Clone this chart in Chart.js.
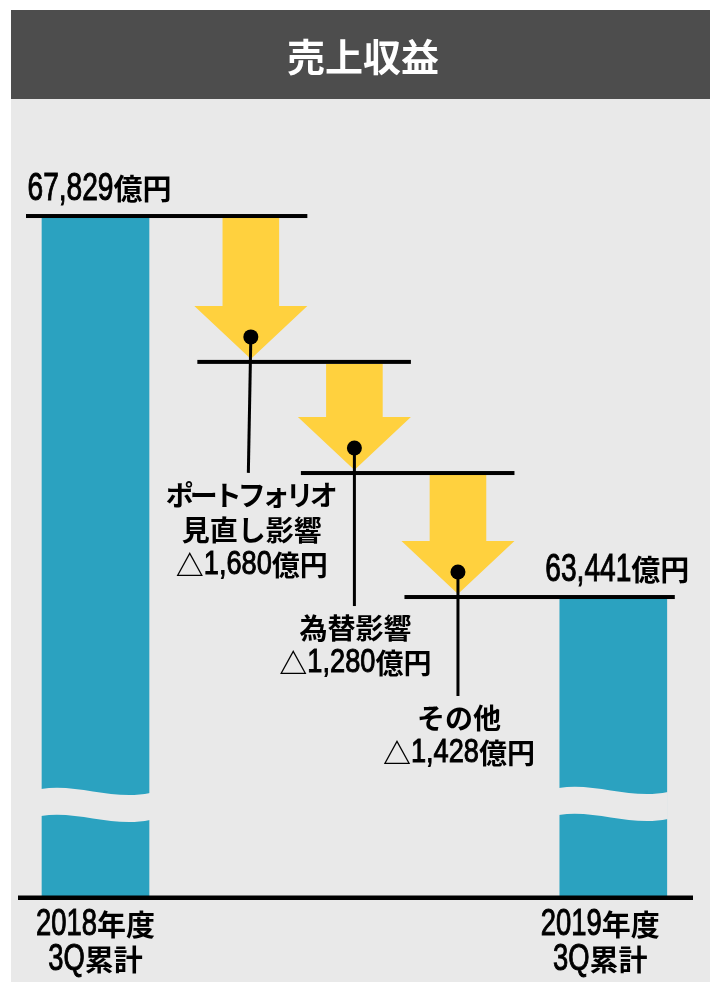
<!DOCTYPE html>
<html><head><meta charset="utf-8">
<script src="https://cdn.jsdelivr.net/npm/chart.js@4.4.1/dist/chart.umd.min.js"></script>
<style>
html,body{margin:0;padding:0;background:#fff;}
canvas{position:absolute;left:0;top:0;}
</style></head>
<body>
<canvas id="c" width="710" height="983"></canvas>
<script>
// ---- data ----
const chartTitle = '売上収益';
const totalLabels = ['2018年度\n3Q累計', '2019年度\n3Q累計'];
const totalValues = [67829, 63441];
const changeLabels = ['ポートフォリオ\n見直し影響', '為替影響', 'その他'];
const changeValues = [-1680, -1280, -1428];
const unitLabel = '億円';
const axisMin = 60000;
const axisMax = 69000;

// ---- layout / style ----
const totalPos = [0, 5];
const changePos = [1.5, 2.5, 3.5];
const TEAL = '#2ba2c0', YELLOW = '#ffd13e', BG = '#e9e9e9', BANNER = '#4d4d4d';
const calloutDrop = [136, 158, 124];
const calloutSlant = [-2.5, 0, 0];
const bottomOffset = [0, -13];
const waveShift = [0, -1];

const levels = [totalValues[0]];
changeValues.forEach(v => levels.push(levels[levels.length - 1] + v));

function fmt(n) { return Math.abs(n).toLocaleString('en-US'); }

function segs(text) {
  const out = [];
  for (const m of text.matchAll(/[0-9A-Za-z,.]+|[^0-9A-Za-z,.]/g)) out.push(m[0]);
  return out;
}
function drawMixed(ctx, text, cx, cy, st) {
  const latF = st.lat + 'px "Liberation Sans", Arial, sans-serif';
  const cjkF = (st.w || 'bold') + ' ' + st.cjk + 'px "Noto Sans CJK JP", sans-serif';
  const parts = segs(text).map(s => {
    const lat = /^[0-9A-Za-z,.]/.test(s);
    const kana = !lat && /[\u30A0-\u30FF]/.test(s);
    ctx.font = lat ? latF : cjkF;
    let w = ctx.measureText(s).width;
    if (lat) w *= st.sx; else if (kana) w += (st.kana || 0);
    return { s, lat, kana, w };
  });
  const total = parts.reduce((a, p) => a + p.w, 0);
  let x = cx - total / 2;
  ctx.textBaseline = 'middle';
  ctx.textAlign = 'left';
  parts.forEach(p => {
    if (p.lat) {
      ctx.font = latF;
      ctx.save(); ctx.translate(x, cy + (st.latDy || 0)); ctx.scale(st.sx, 1);
      ctx.fillText(p.s, 0, 0);
      ctx.lineWidth = 1.0; ctx.strokeStyle = ctx.fillStyle; ctx.strokeText(p.s, 0, 0);
      ctx.restore();
    } else {
      ctx.font = cjkF;
      ctx.fillText(p.s, x + (p.kana ? (st.kana || 0) / 2 : 0), cy);
    }
    x += p.w;
  });
}

const deco = {
  id: 'deco',
  beforeDraw(chart) {
    const ctx = chart.ctx;
    ctx.save();
    ctx.fillStyle = '#fff'; ctx.fillRect(0, 0, 710, 983);
    ctx.fillStyle = BG; ctx.fillRect(11, 10, 699, 972);
    ctx.fillStyle = BANNER; ctx.fillRect(11, 10, 699, 89);
    ctx.fillStyle = '#fff';
    ctx.font = 'bold 38px "Noto Sans CJK JP", sans-serif';
    ctx.textAlign = 'center'; ctx.textBaseline = 'middle';
    ctx.fillText(chartTitle, 363, 57);
    ctx.restore();
  },
  afterDatasetsDraw(chart) {
    const ctx = chart.ctx;
    const yS = chart.scales.y;
    const tot = chart.getDatasetMeta(0).data;
    const chg = chart.getDatasetMeta(1).data;
    const base = yS.getPixelForValue(axisMin);
    ctx.save();
    // wave breaks
    tot.forEach((el, i) => {
      const L = el.x - el.width / 2 - 1, R = el.x + el.width / 2 + 1, w = R - L;
      const y0 = base - 106.8 + waveShift[i];
      const g = 27;
      ctx.fillStyle = BG;
      ctx.beginPath();
      ctx.moveTo(L, y0);
      ctx.bezierCurveTo(L + 0.33 * w, y0 - 6, L + 0.66 * w, y0 + 12, R, y0 + 4);
      ctx.lineTo(R, y0 + 4 + g);
      ctx.bezierCurveTo(L + 0.66 * w, y0 + 12 + g, L + 0.33 * w, y0 - 6 + g, L, y0 + g);
      ctx.closePath();
      ctx.fill();
    });
    // arrows
    const tips = [];
    chg.forEach((el, i) => {
      const top = Math.min(el.y, el.base), bot = Math.max(el.y, el.base);
      const cx = el.x, hw = el.width / 2, sw = 28.3;
      const tip = bot - 3, hs = tip - 53, st = top + 2;
      tips.push(tip);
      ctx.fillStyle = YELLOW;
      ctx.beginPath();
      ctx.moveTo(cx - sw, st); ctx.lineTo(cx + sw, st); ctx.lineTo(cx + sw, hs);
      ctx.lineTo(cx + hw, hs); ctx.lineTo(cx, tip); ctx.lineTo(cx - hw, hs);
      ctx.lineTo(cx - sw, hs); ctx.closePath(); ctx.fill();
    });
    // step lines
    const items = [tot[0], chg[0], chg[1], chg[2], tot[1]];
    ctx.fillStyle = '#000';
    levels.forEach((lv, k) => {
      const y = yS.getPixelForValue(lv);
      const a = items[k], b = items[k + 1];
      const x1 = a.x - a.width / 2 + (k === 0 ? -16 : 3);
      const x2 = b.x + b.width / 2 + (k + 1 === 4 ? 8 : 0);
      ctx.fillRect(x1, y - 2, x2 - x1, 4);
    });
    // axis baseline
    ctx.fillRect(18, base - 0.3, 675, 4.5);
    // callouts
    chg.forEach((el, i) => {
      const cx = el.x, tip = tips[i];
      const dy = tip - 22;
      const ly = tip + calloutDrop[i];
      ctx.strokeStyle = '#000'; ctx.lineWidth = 3;
      ctx.beginPath(); ctx.moveTo(cx, dy); ctx.lineTo(cx + calloutSlant[i], ly - 22); ctx.stroke();
      ctx.beginPath(); ctx.arc(cx, dy, 7.5, 0, Math.PI * 2); ctx.fillStyle = '#000'; ctx.fill();
      const lines = changeLabels[i].split('\n').concat(['△' + fmt(changeValues[i]) + unitLabel]);
      lines.forEach((t, j) => drawMixed(ctx, t, cx + 1, ly + j * 35, { cjk: 28, lat: 34, sx: 0.8, kana: -4 }));
    });
    // total value labels
    tot.forEach((el, i) => {
      const y = yS.getPixelForValue(totalValues[i]);
      drawMixed(ctx, fmt(totalValues[i]) + unitLabel, el.x + 4, y - 27, { cjk: 29, lat: 38, sx: 0.74 });
      totalLabels[i].split('\n').forEach((t, j) =>
        drawMixed(ctx, t, el.x + bottomOffset[i], base + 29 + j * 35, { cjk: 29, lat: 37, sx: 0.74 }));
    });
    ctx.restore();
  }
};

new Chart(document.getElementById('c'), {
  type: 'bar',
  data: {
    datasets: [
      { label: '累計', data: totalValues.map((v, i) => ({ x: totalPos[i], y: [axisMin, v] })),
        backgroundColor: TEAL, barThickness: 107, grouped: false, clip: false },
      { label: '増減', data: changeValues.map((v, i) => ({ x: changePos[i], y: [levels[i], levels[i + 1]] })),
        backgroundColor: 'rgba(0,0,0,0)', barThickness: 113, grouped: false, clip: false }
    ]
  },
  options: {
    responsive: false, animation: false, devicePixelRatio: 1,
    layout: { padding: { top: 114.35, bottom: 87.2, left: 12.65, right: 13.85 } },
    scales: {
      x: { type: 'linear', min: -0.8, max: 5.8, offset: false, display: false },
      y: { min: axisMin, max: axisMax, display: false }
    },
    plugins: { legend: { display: false }, tooltip: { enabled: false } }
  },
  plugins: [deco]
});
</script>
</body></html>
